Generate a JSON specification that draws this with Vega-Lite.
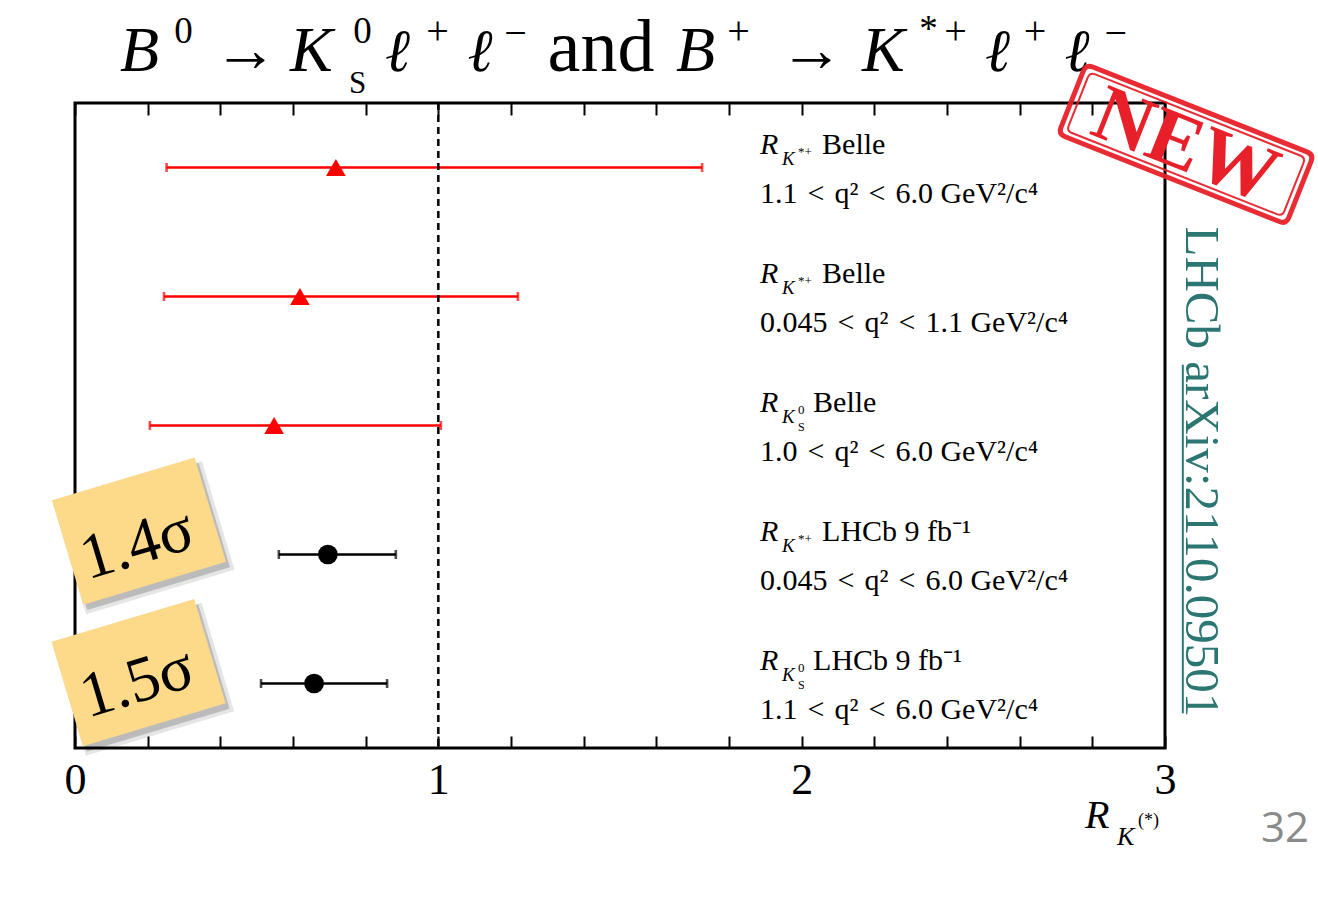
{
  "$schema": "https://vega.github.io/schema/vega-lite/v6.json",
  "width": 1090,
  "height": 645,
  "autosize": {"type": "none"},
  "padding": {"left": 75, "top": 103, "right": 153, "bottom": 154},
  "background": "white",
  "config": {"view": {"stroke": "black", "strokeWidth": 3}, "text": {"font": "Liberation Serif", "color": "black"}},
  "resolve": {"axis": {"x": "independent"}},
  "datasets": {
    "meas": [
      {"row": 0.5, "exp": "Belle", "val": 0.718, "lo": 0.252, "hi": 1.726, "sup": "*+", "low": "", "name": "Belle", "range": "1.1\u2004<\u2004q²\u2004<\u20046.0 GeV²/c⁴"},
      {"row": 1.5, "exp": "Belle", "val": 0.619, "lo": 0.245, "hi": 1.219, "sup": "*+", "low": "", "name": "Belle", "range": "0.045\u2004<\u2004q²\u2004<\u20041.1 GeV²/c⁴"},
      {"row": 2.5, "exp": "Belle", "val": 0.548, "lo": 0.206, "hi": 1.007, "sup": "0", "low": "S", "name": "Belle", "range": "1.0\u2004<\u2004q²\u2004<\u20046.0 GeV²/c⁴"},
      {"row": 3.5, "exp": "LHCb", "val": 0.696, "lo": 0.561, "hi": 0.883, "sup": "*+", "low": "", "name": "LHCb 9 fb⁻¹", "range": "0.045\u2004<\u2004q²\u2004<\u20046.0 GeV²/c⁴"},
      {"row": 4.5, "exp": "LHCb", "val": 0.658, "lo": 0.512, "hi": 0.859, "sup": "0", "low": "S", "name": "LHCb 9 fb⁻¹", "range": "1.1\u2004<\u2004q²\u2004<\u20046.0 GeV²/c⁴"}
    ]
  },
  "layer": [
    {
      "data": {"name": "meas"},
      "mark": {"type": "rule", "strokeWidth": 2.6},
      "encoding": {
        "x": {"field": "lo", "type": "quantitative", "scale": {"domain": [0, 3], "nice": false, "zero": false},
          "axis": {"orient": "bottom", "values": [0, 0.2, 0.4, 0.6, 0.8, 1, 1.2, 1.4, 1.6, 1.8, 2, 2.2, 2.4, 2.6, 2.8, 3],
            "labelExpr": "abs(datum.value - round(datum.value)) < 0.001 ? format(datum.value, 'd') : ''",
            "labelFont": "Liberation Serif", "labelFontSize": 44, "labelColor": "black", "labelPadding": 22,
            "labelFlush": false, "labelOverlap": false, "tickSize": -12, "tickColor": "black", "tickWidth": 2,
            "domain": false, "grid": false, "title": null}},
        "x2": {"field": "hi"},
        "y": {"field": "row", "type": "quantitative", "scale": {"domain": [0, 5], "reverse": true, "nice": false, "zero": false}, "axis": null},
        "color": {"field": "exp", "type": "nominal", "scale": {"domain": ["Belle", "LHCb"], "range": ["#ff0000", "#000000"]}, "legend": null}
      }
    },
    {
      "data": {"values": [{}]},
      "mark": {"type": "rule", "strokeDash": [7, 5], "strokeWidth": 2.5, "color": "black"},
      "encoding": {
        "x": {"datum": 1, "type": "quantitative", "scale": {"domain": [0, 3], "nice": false, "zero": false},
          "axis": {"orient": "top", "values": [0, 0.2, 0.4, 0.6, 0.8, 1, 1.2, 1.4, 1.6, 1.8, 2, 2.2, 2.4, 2.6, 2.8, 3],
            "labels": false, "tickSize": -12, "tickColor": "black", "tickWidth": 2, "domain": false, "grid": false, "title": null}}
      }
    },
    {
      "data": {"name": "meas"},
      "mark": {"type": "tick", "orient": "vertical", "thickness": 2.6, "size": 9},
      "encoding": {
        "x": {"field": "lo", "type": "quantitative", "scale": {"domain": [0, 3], "nice": false, "zero": false}, "axis": null},
        "y": {"field": "row", "type": "quantitative", "scale": {"domain": [0, 5], "reverse": true, "nice": false, "zero": false}, "axis": null},
        "color": {"field": "exp", "type": "nominal", "scale": {"domain": ["Belle", "LHCb"], "range": ["#ff0000", "#000000"]}, "legend": null}
      }
    },
    {
      "data": {"name": "meas"},
      "mark": {"type": "tick", "orient": "vertical", "thickness": 2.6, "size": 9},
      "encoding": {
        "x": {"field": "hi", "type": "quantitative", "scale": {"domain": [0, 3], "nice": false, "zero": false}, "axis": null},
        "y": {"field": "row", "type": "quantitative", "scale": {"domain": [0, 5], "reverse": true, "nice": false, "zero": false}, "axis": null},
        "color": {"field": "exp", "type": "nominal", "scale": {"domain": ["Belle", "LHCb"], "range": ["#ff0000", "#000000"]}, "legend": null}
      }
    },
    {
      "data": {"name": "meas"},
      "mark": {"type": "point", "filled": true, "opacity": 1, "size": 390},
      "encoding": {
        "x": {"field": "val", "type": "quantitative", "scale": {"domain": [0, 3], "nice": false, "zero": false}, "axis": null},
        "y": {"field": "row", "type": "quantitative", "scale": {"domain": [0, 5], "reverse": true, "nice": false, "zero": false}, "axis": null},
        "shape": {"field": "exp", "type": "nominal", "scale": {"domain": ["Belle", "LHCb"], "range": ["triangle-up", "circle"]}, "legend": null},
        "color": {"field": "exp", "type": "nominal", "scale": {"domain": ["Belle", "LHCb"], "range": ["#ff0000", "#000000"]}, "legend": null}
      }
    },
    {
      "data": {"name": "meas"},
      "mark": {"type": "text", "align": "left", "baseline": "alphabetic", "fontSize": 30, "fontStyle": "italic", "dy": -14, "text": "R"},
      "encoding": {
        "x": {"datum": 1.8855, "type": "quantitative", "scale": {"domain": [0, 3], "nice": false, "zero": false}, "axis": null},
        "y": {"field": "row", "type": "quantitative", "scale": {"domain": [0, 5], "reverse": true, "nice": false, "zero": false}, "axis": null}
      }
    },
    {
      "data": {"name": "meas"},
      "mark": {"type": "text", "align": "left", "baseline": "alphabetic", "fontSize": 19, "fontStyle": "italic", "dx": 22, "dy": -3, "text": "K"},
      "encoding": {
        "x": {"datum": 1.8855, "type": "quantitative", "scale": {"domain": [0, 3], "nice": false, "zero": false}, "axis": null},
        "y": {"field": "row", "type": "quantitative", "scale": {"domain": [0, 5], "reverse": true, "nice": false, "zero": false}, "axis": null}
      }
    },
    {
      "data": {"name": "meas"},
      "mark": {"type": "text", "align": "left", "baseline": "alphabetic", "fontSize": 13, "dx": 38, "dy": -12},
      "encoding": {
        "x": {"datum": 1.8855, "type": "quantitative", "scale": {"domain": [0, 3], "nice": false, "zero": false}, "axis": null},
        "y": {"field": "row", "type": "quantitative", "scale": {"domain": [0, 5], "reverse": true, "nice": false, "zero": false}, "axis": null},
        "text": {"field": "sup"}
      }
    },
    {
      "data": {"name": "meas"},
      "mark": {"type": "text", "align": "left", "baseline": "alphabetic", "fontSize": 12, "dx": 38, "dy": 5},
      "encoding": {
        "x": {"datum": 1.8855, "type": "quantitative", "scale": {"domain": [0, 3], "nice": false, "zero": false}, "axis": null},
        "y": {"field": "row", "type": "quantitative", "scale": {"domain": [0, 5], "reverse": true, "nice": false, "zero": false}, "axis": null},
        "text": {"field": "low"}
      }
    },
    {
      "data": {"name": "meas"},
      "transform": [{"filter": "datum.sup === '*+'"}],
      "mark": {"type": "text", "align": "left", "baseline": "alphabetic", "fontSize": 30, "dx": 62, "dy": -14},
      "encoding": {
        "x": {"datum": 1.8855, "type": "quantitative", "scale": {"domain": [0, 3], "nice": false, "zero": false}, "axis": null},
        "y": {"field": "row", "type": "quantitative", "scale": {"domain": [0, 5], "reverse": true, "nice": false, "zero": false}, "axis": null},
        "text": {"field": "name"}
      }
    },
    {
      "data": {"name": "meas"},
      "transform": [{"filter": "datum.sup === '0'"}],
      "mark": {"type": "text", "align": "left", "baseline": "alphabetic", "fontSize": 30, "dx": 53, "dy": -14},
      "encoding": {
        "x": {"datum": 1.8855, "type": "quantitative", "scale": {"domain": [0, 3], "nice": false, "zero": false}, "axis": null},
        "y": {"field": "row", "type": "quantitative", "scale": {"domain": [0, 5], "reverse": true, "nice": false, "zero": false}, "axis": null},
        "text": {"field": "name"}
      }
    },
    {
      "data": {"name": "meas"},
      "mark": {"type": "text", "align": "left", "baseline": "alphabetic", "fontSize": 30, "dy": 35},
      "encoding": {
        "x": {"datum": 1.8855, "type": "quantitative", "scale": {"domain": [0, 3], "nice": false, "zero": false}, "axis": null},
        "y": {"field": "row", "type": "quantitative", "scale": {"domain": [0, 5], "reverse": true, "nice": false, "zero": false}, "axis": null},
        "text": {"field": "range"}
      }
    },
    {
      "data": {"values": [{}]},
      "mark": {"type": "point", "filled": true, "fill": "#000000", "opacity": 0.1, "strokeWidth": 0, "size": 24000, "angle": -16.7, "shape": "M -1 -0.732 L 1 -0.732 L 1 0.732 L -1 0.732 Z"},
      "encoding": {
        "x": {"datum": 0.19, "type": "quantitative", "scale": {"domain": [0, 3], "nice": false, "zero": false}, "axis": null},
        "y": {"datum": 3.37, "type": "quantitative", "scale": {"domain": [0, 5], "reverse": true, "nice": false, "zero": false}, "axis": null}
      }
    },
    {
      "data": {"values": [{}]},
      "mark": {"type": "point", "filled": true, "fill": "#000000", "opacity": 0.18, "strokeWidth": 0, "size": 22201, "angle": -16.7, "shape": "M -1 -0.732 L 1 -0.732 L 1 0.732 L -1 0.732 Z"},
      "encoding": {
        "x": {"datum": 0.187, "type": "quantitative", "scale": {"domain": [0, 3], "nice": false, "zero": false}, "axis": null},
        "y": {"datum": 3.36, "type": "quantitative", "scale": {"domain": [0, 5], "reverse": true, "nice": false, "zero": false}, "axis": null}
      }
    },
    {
      "data": {"values": [{}]},
      "mark": {"type": "point", "filled": true, "fill": "#000000", "opacity": 0.1, "strokeWidth": 0, "size": 24000, "angle": -16.7, "shape": "M -1 -0.732 L 1 -0.732 L 1 0.732 L -1 0.732 Z"},
      "encoding": {
        "x": {"datum": 0.189, "type": "quantitative", "scale": {"domain": [0, 3], "nice": false, "zero": false}, "axis": null},
        "y": {"datum": 4.467, "type": "quantitative", "scale": {"domain": [0, 5], "reverse": true, "nice": false, "zero": false}, "axis": null}
      }
    },
    {
      "data": {"values": [{}]},
      "mark": {"type": "point", "filled": true, "fill": "#000000", "opacity": 0.18, "strokeWidth": 0, "size": 22201, "angle": -16.7, "shape": "M -1 -0.732 L 1 -0.732 L 1 0.732 L -1 0.732 Z"},
      "encoding": {
        "x": {"datum": 0.186, "type": "quantitative", "scale": {"domain": [0, 3], "nice": false, "zero": false}, "axis": null},
        "y": {"datum": 4.457, "type": "quantitative", "scale": {"domain": [0, 5], "reverse": true, "nice": false, "zero": false}, "axis": null}
      }
    },
    {
      "data": {"values": [{}]},
      "mark": {"type": "point", "filled": true, "fill": "#fdd98a", "opacity": 1, "strokeWidth": 0, "size": 22201, "angle": -16.7, "shape": "M -1 -0.732 L 1 -0.732 L 1 0.732 L -1 0.732 Z"},
      "encoding": {
        "x": {"datum": 0.176, "type": "quantitative", "scale": {"domain": [0, 3], "nice": false, "zero": false}, "axis": null},
        "y": {"datum": 3.318, "type": "quantitative", "scale": {"domain": [0, 5], "reverse": true, "nice": false, "zero": false}, "axis": null}
      }
    },
    {
      "data": {"values": [{}]},
      "mark": {"type": "point", "filled": true, "fill": "#fdd98a", "opacity": 1, "strokeWidth": 0, "size": 22201, "angle": -16.7, "shape": "M -1 -0.732 L 1 -0.732 L 1 0.732 L -1 0.732 Z"},
      "encoding": {
        "x": {"datum": 0.175, "type": "quantitative", "scale": {"domain": [0, 3], "nice": false, "zero": false}, "axis": null},
        "y": {"datum": 4.415, "type": "quantitative", "scale": {"domain": [0, 5], "reverse": true, "nice": false, "zero": false}, "axis": null}
      }
    },
    {
      "data": {"values": [{}]},
      "mark": {"type": "text", "align": "center", "baseline": "middle", "fontSize": 64, "angle": -16.7, "text": "1.4σ"},
      "encoding": {
        "x": {"datum": 0.171, "type": "quantitative", "scale": {"domain": [0, 3], "nice": false, "zero": false}, "axis": null},
        "y": {"datum": 3.426, "type": "quantitative", "scale": {"domain": [0, 5], "reverse": true, "nice": false, "zero": false}, "axis": null}
      }
    },
    {
      "data": {"values": [{}]},
      "mark": {"type": "text", "align": "center", "baseline": "middle", "fontSize": 64, "angle": -16.7, "text": "1.5σ"},
      "encoding": {
        "x": {"datum": 0.171, "type": "quantitative", "scale": {"domain": [0, 3], "nice": false, "zero": false}, "axis": null},
        "y": {"datum": 4.496, "type": "quantitative", "scale": {"domain": [0, 5], "reverse": true, "nice": false, "zero": false}, "axis": null}
      }
    },
    {"data": {"values": [{}]}, "mark": {"type": "text", "align": "left", "baseline": "alphabetic", "fontSize": 64, "fontStyle": "italic", "text": "B"},
      "encoding": {"x": {"datum": 0.124, "type": "quantitative", "axis": null}, "y": {"datum": -0.248, "type": "quantitative", "axis": null}}},
    {"data": {"values": [{}]}, "mark": {"type": "text", "align": "center", "baseline": "alphabetic", "fontSize": 37, "text": "0"},
      "encoding": {"x": {"datum": 0.2986, "type": "quantitative", "axis": null}, "y": {"datum": -0.465, "type": "quantitative", "axis": null}}},
    {"data": {"values": [{}]}, "mark": {"type": "text", "align": "center", "baseline": "alphabetic", "fontSize": 64, "text": "→"},
      "encoding": {"x": {"datum": 0.4692, "type": "quantitative", "axis": null}, "y": {"datum": -0.248, "type": "quantitative", "axis": null}}},
    {"data": {"values": [{}]}, "mark": {"type": "text", "align": "left", "baseline": "alphabetic", "fontSize": 64, "fontStyle": "italic", "text": "K"},
      "encoding": {"x": {"datum": 0.5917, "type": "quantitative", "axis": null}, "y": {"datum": -0.248, "type": "quantitative", "axis": null}}},
    {"data": {"values": [{}]}, "mark": {"type": "text", "align": "center", "baseline": "alphabetic", "fontSize": 37, "text": "0"},
      "encoding": {"x": {"datum": 0.7913, "type": "quantitative", "axis": null}, "y": {"datum": -0.465, "type": "quantitative", "axis": null}}},
    {"data": {"values": [{}]}, "mark": {"type": "text", "align": "center", "baseline": "alphabetic", "fontSize": 31, "text": "S"},
      "encoding": {"x": {"datum": 0.7776, "type": "quantitative", "axis": null}, "y": {"datum": -0.078, "type": "quantitative", "axis": null}}},
    {"data": {"values": [{}]}, "mark": {"type": "text", "align": "center", "baseline": "alphabetic", "fontSize": 60, "font": "DejaVu Serif", "fontStyle": "italic", "text": "ℓ"},
      "encoding": {"x": {"datum": 0.8876, "type": "quantitative", "axis": null}, "y": {"datum": -0.248, "type": "quantitative", "axis": null}}},
    {"data": {"values": [{}]}, "mark": {"type": "text", "align": "center", "baseline": "alphabetic", "fontSize": 40, "text": "+"},
      "encoding": {"x": {"datum": 0.9978, "type": "quantitative", "axis": null}, "y": {"datum": -0.457, "type": "quantitative", "axis": null}}},
    {"data": {"values": [{}]}, "mark": {"type": "text", "align": "center", "baseline": "alphabetic", "fontSize": 60, "font": "DejaVu Serif", "fontStyle": "italic", "text": "ℓ"},
      "encoding": {"x": {"datum": 1.1147, "type": "quantitative", "axis": null}, "y": {"datum": -0.248, "type": "quantitative", "axis": null}}},
    {"data": {"values": [{}]}, "mark": {"type": "text", "align": "center", "baseline": "alphabetic", "fontSize": 40, "text": "−"},
      "encoding": {"x": {"datum": 1.2124, "type": "quantitative", "axis": null}, "y": {"datum": -0.44, "type": "quantitative", "axis": null}}},
    {"data": {"values": [{}]}, "mark": {"type": "text", "align": "center", "baseline": "alphabetic", "fontSize": 74, "text": "and"},
      "encoding": {"x": {"datum": 1.4477, "type": "quantitative", "axis": null}, "y": {"datum": -0.248, "type": "quantitative", "axis": null}}},
    {"data": {"values": [{}]}, "mark": {"type": "text", "align": "left", "baseline": "alphabetic", "fontSize": 64, "fontStyle": "italic", "text": "B"},
      "encoding": {"x": {"datum": 1.6541, "type": "quantitative", "axis": null}, "y": {"datum": -0.248, "type": "quantitative", "axis": null}}},
    {"data": {"values": [{}]}, "mark": {"type": "text", "align": "center", "baseline": "alphabetic", "fontSize": 40, "text": "+"},
      "encoding": {"x": {"datum": 1.8263, "type": "quantitative", "axis": null}, "y": {"datum": -0.457, "type": "quantitative", "axis": null}}},
    {"data": {"values": [{}]}, "mark": {"type": "text", "align": "center", "baseline": "alphabetic", "fontSize": 64, "text": "→"},
      "encoding": {"x": {"datum": 2.0271, "type": "quantitative", "axis": null}, "y": {"datum": -0.248, "type": "quantitative", "axis": null}}},
    {"data": {"values": [{}]}, "mark": {"type": "text", "align": "left", "baseline": "alphabetic", "fontSize": 64, "fontStyle": "italic", "text": "K"},
      "encoding": {"x": {"datum": 2.1662, "type": "quantitative", "axis": null}, "y": {"datum": -0.248, "type": "quantitative", "axis": null}}},
    {"data": {"values": [{}]}, "mark": {"type": "text", "align": "center", "baseline": "alphabetic", "fontSize": 37, "text": "*"},
      "encoding": {"x": {"datum": 2.3491, "type": "quantitative", "axis": null}, "y": {"datum": -0.48, "type": "quantitative", "axis": null}}},
    {"data": {"values": [{}]}, "mark": {"type": "text", "align": "center", "baseline": "alphabetic", "fontSize": 40, "text": "+"},
      "encoding": {"x": {"datum": 2.4234, "type": "quantitative", "axis": null}, "y": {"datum": -0.457, "type": "quantitative", "axis": null}}},
    {"data": {"values": [{}]}, "mark": {"type": "text", "align": "center", "baseline": "alphabetic", "fontSize": 60, "font": "DejaVu Serif", "fontStyle": "italic", "text": "ℓ"},
      "encoding": {"x": {"datum": 2.5387, "type": "quantitative", "axis": null}, "y": {"datum": -0.248, "type": "quantitative", "axis": null}}},
    {"data": {"values": [{}]}, "mark": {"type": "text", "align": "center", "baseline": "alphabetic", "fontSize": 40, "text": "+"},
      "encoding": {"x": {"datum": 2.6424, "type": "quantitative", "axis": null}, "y": {"datum": -0.457, "type": "quantitative", "axis": null}}},
    {"data": {"values": [{}]}, "mark": {"type": "text", "align": "center", "baseline": "alphabetic", "fontSize": 60, "font": "DejaVu Serif", "fontStyle": "italic", "text": "ℓ"},
      "encoding": {"x": {"datum": 2.7579, "type": "quantitative", "axis": null}, "y": {"datum": -0.248, "type": "quantitative", "axis": null}}},
    {"data": {"values": [{}]}, "mark": {"type": "text", "align": "center", "baseline": "alphabetic", "fontSize": 40, "text": "−"},
      "encoding": {"x": {"datum": 2.8643, "type": "quantitative", "axis": null}, "y": {"datum": -0.44, "type": "quantitative", "axis": null}}},
    {
      "data": {"values": [{}]},
      "mark": {"type": "point", "filled": false, "stroke": "#e8202a", "strokeWidth": 5, "opacity": 0.95, "size": 60025, "angle": 21.6, "shape": "M -0.94 -0.306 L 0.94 -0.306 Q 1 -0.306 1 -0.246 L 1 0.246 Q 1 0.306 0.94 0.306 L -0.94 0.306 Q -1 0.306 -1 0.246 L -1 -0.246 Q -1 -0.306 -0.94 -0.306 Z"},
      "encoding": {
        "x": {"datum": 3.058, "type": "quantitative", "scale": {"domain": [0, 3], "nice": false, "zero": false}, "axis": null},
        "y": {"datum": 0.32, "type": "quantitative", "scale": {"domain": [0, 5], "reverse": true, "nice": false, "zero": false}, "axis": null}
      }
    },
    {
      "data": {"values": [{}]},
      "mark": {"type": "point", "filled": false, "stroke": "#e8202a", "strokeWidth": 2, "opacity": 0.95, "size": 53824, "angle": 21.6, "shape": "M -0.95 -0.272 L 0.95 -0.272 Q 1 -0.272 1 -0.222 L 1 0.222 Q 1 0.272 0.95 0.272 L -0.95 0.272 Q -1 0.272 -1 0.222 L -1 -0.222 Q -1 -0.272 -0.95 -0.272 Z"},
      "encoding": {
        "x": {"datum": 3.058, "type": "quantitative", "scale": {"domain": [0, 3], "nice": false, "zero": false}, "axis": null},
        "y": {"datum": 0.32, "type": "quantitative", "scale": {"domain": [0, 5], "reverse": true, "nice": false, "zero": false}, "axis": null}
      }
    },
    {
      "data": {"values": [{}]},
      "mark": {"type": "text", "align": "center", "baseline": "middle", "fontSize": 80, "fontWeight": "bold", "color": "#e8202a", "angle": 21.6, "text": "NEW"},
      "encoding": {
        "x": {"datum": 3.056, "type": "quantitative", "scale": {"domain": [0, 3], "nice": false, "zero": false}, "axis": null},
        "y": {"datum": 0.335, "type": "quantitative", "scale": {"domain": [0, 5], "reverse": true, "nice": false, "zero": false}, "axis": null}
      }
    },
    {
      "data": {"values": [{}]},
      "mark": {"type": "text", "align": "center", "baseline": "alphabetic", "fontSize": 49, "color": "#2b7572", "angle": 90, "text": "LHCb arXiv:2110.09501"},
      "encoding": {
        "x": {"datum": 3.058, "type": "quantitative", "scale": {"domain": [0, 3], "nice": false, "zero": false}, "axis": null},
        "y": {"datum": 2.86, "type": "quantitative", "scale": {"domain": [0, 5], "reverse": true, "nice": false, "zero": false}, "axis": null}
      }
    },
    {
      "data": {"values": [{}]},
      "mark": {"type": "rule", "color": "#2b7572", "strokeWidth": 2},
      "encoding": {
        "x": {"datum": 3.049, "type": "quantitative", "scale": {"domain": [0, 3], "nice": false, "zero": false}, "axis": null},
        "y": {"datum": 2.03, "type": "quantitative", "scale": {"domain": [0, 5], "reverse": true, "nice": false, "zero": false}, "axis": null},
        "y2": {"datum": 4.73}
      }
    },
    {
      "data": {"values": [{}]},
      "mark": {"type": "text", "align": "left", "baseline": "alphabetic", "fontSize": 40, "fontStyle": "italic", "text": "R"},
      "encoding": {
        "x": {"datum": 2.78, "type": "quantitative", "scale": {"domain": [0, 3], "nice": false, "zero": false}, "axis": null},
        "y": {"datum": 5.62, "type": "quantitative", "scale": {"domain": [0, 5], "reverse": true, "nice": false, "zero": false}, "axis": null}
      }
    },
    {
      "data": {"values": [{}]},
      "mark": {"type": "text", "align": "left", "baseline": "alphabetic", "fontSize": 26, "fontStyle": "italic", "text": "K"},
      "encoding": {
        "x": {"datum": 2.868, "type": "quantitative", "scale": {"domain": [0, 3], "nice": false, "zero": false}, "axis": null},
        "y": {"datum": 5.752, "type": "quantitative", "scale": {"domain": [0, 5], "reverse": true, "nice": false, "zero": false}, "axis": null}
      }
    },
    {
      "data": {"values": [{}]},
      "mark": {"type": "text", "align": "left", "baseline": "alphabetic", "fontSize": 18, "text": "(*)"},
      "encoding": {
        "x": {"datum": 2.926, "type": "quantitative", "scale": {"domain": [0, 3], "nice": false, "zero": false}, "axis": null},
        "y": {"datum": 5.605, "type": "quantitative", "scale": {"domain": [0, 5], "reverse": true, "nice": false, "zero": false}, "axis": null}
      }
    },
    {
      "data": {"values": [{}]},
      "mark": {"type": "text", "align": "center", "baseline": "alphabetic", "fontSize": 42, "font": "Open Sans", "color": "#8a8a8a", "text": "32"},
      "encoding": {
        "x": {"datum": 3.33, "type": "quantitative", "scale": {"domain": [0, 3], "nice": false, "zero": false}, "axis": null},
        "y": {"datum": 5.729, "type": "quantitative", "scale": {"domain": [0, 5], "reverse": true, "nice": false, "zero": false}, "axis": null}
      }
    }
  ]
}
